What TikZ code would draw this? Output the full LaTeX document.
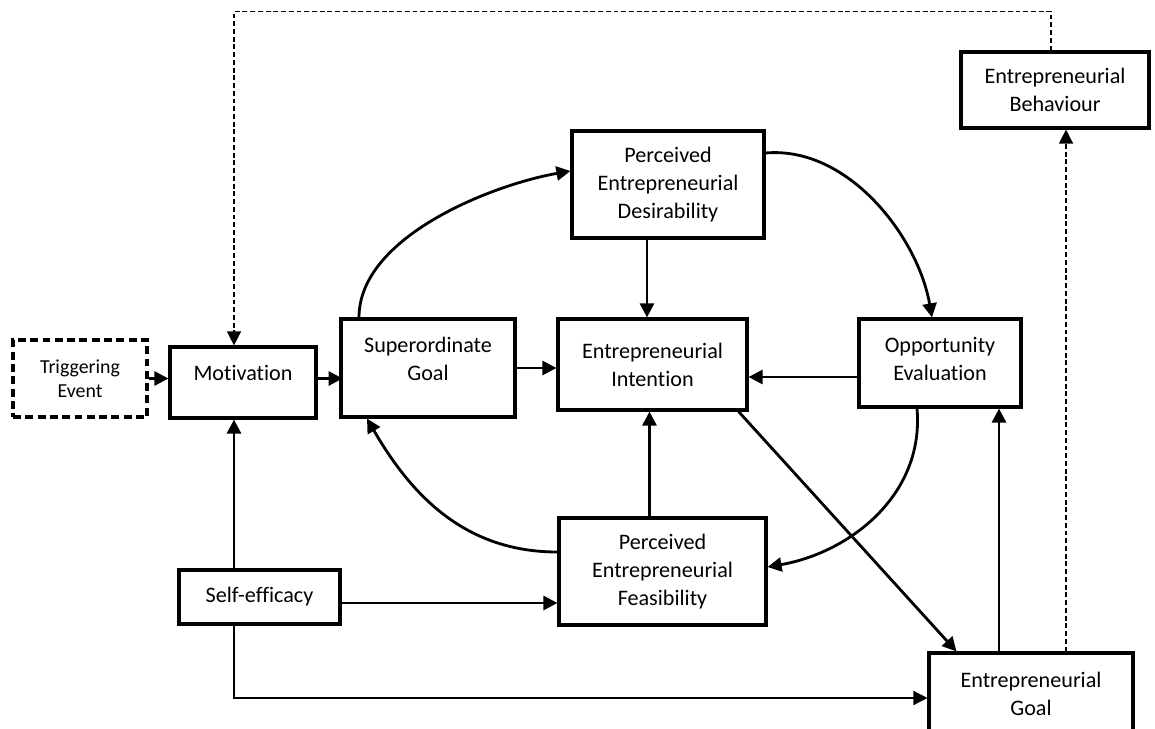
\documentclass[tikz,border=0pt]{standalone}
\usepackage{fontspec}
\setmainfont{Carlito}[Ligatures=NoCommon]
\usetikzlibrary{arrows.meta,calc}

\begin{document}
\begin{tikzpicture}[
        x=0.02cm, y=-0.02cm,
        every node/.style={font=\fontsize{12.6}{15.9}\selectfont},
        box/.style={draw, line width=1.8pt, align=center, inner sep=0pt},
        arr/.style={line width=1.6pt, -{Triangle[length=8pt,width=8pt]}},
        thinarr/.style={line width=0.8pt, -{Triangle[length=8pt,width=8pt]}},
        dasharr/.style={line width=0.8pt, dash pattern=on 2.8pt off 1.6pt, -{Triangle[length=8pt,width=8pt]}},
    ]
    \useasboundingbox (0,0) rectangle (1155,729);

    % Boxes
    \node[box, dash pattern=on 4.5pt off 2.5pt, minimum width=2.68cm, minimum height=1.54cm,
          font=\fontsize{11.3}{13.6}\selectfont] (trig) at (80,378.5) {Triggering\\Event};
    \node[box, minimum width=2.92cm, minimum height=1.42cm, text depth=10.8pt] (motiv) at (243,382.5) {Motivation};
    \node[box, minimum width=3.48cm, minimum height=1.96cm, text depth=10.2pt] (super) at (428,368) {Superordinate\\Goal};
    \node[box, minimum width=3.78cm, minimum height=1.82cm] (intent) at (652.5,364.5) {Entrepreneurial\\Intention};
    \node[box, minimum width=3.24cm, minimum height=1.76cm, text depth=4.6pt] (oppor) at (940,363) {Opportunity\\Evaluation};
    \node[box, minimum width=3.84cm, minimum height=2.14cm] (desir) at (668,184.5) {Perceived\\Entrepreneurial\\Desirability};
    \node[box, minimum width=4.14cm, minimum height=2.14cm] (feas) at (662.5,571.5) {Perceived\\Entrepreneurial\\Feasibility};
    \node[box, minimum width=3.22cm, minimum height=1.08cm] (selfeff) at (259.5,597) {Self-efficacy};
    \node[box, minimum width=3.76cm, minimum height=1.52cm] (behav) at (1055,90) {Entrepreneurial\\Behaviour};
    \node[box, minimum width=4.08cm, minimum height=1.64cm] (goal) at (1031,694) {Entrepreneurial\\Goal};

    % helper points
    \coordinate (gb) at ($(goal.north)+(35,0)$);
    \coordinate (go) at ($(goal.north)+(-32,0)$);
    \coordinate (bm) at ($(behav.north)+(-4,0)$);
    \coordinate (sm) at ($(selfeff.north)+(-25.5,0)$);
    \coordinate (sg) at ($(selfeff.south)+(-25.5,0)$);
    \coordinate (sf) at ($(selfeff.east)+(0,6)$);
    \coordinate (oi) at ($(oppor.west)+(0,14)$);
    \coordinate (di) at ($(intent.north)+(-5.5,0)$);
    \coordinate (fi) at ($(intent.south)+(-3,0)$);

    % Main chain
    \draw[arr] (trig.east) -- (trig.east -| motiv.west);
    \draw[arr] ($(motiv.east)+(0,-4)$) -- ($(motiv.east)+(25,-4)$);
    \draw[arr] (super.east) -- (super.east -| intent.west);
    \draw[arr] (oi) -- (oi -| intent.east);
    \draw[arr] (di |- desir.south) -- (di);
    \draw[arr] (fi |- feas.north) -- (fi);
    \draw[arr] ($(intent.south east)+(-10,0)$) -- ($(goal.north west)+(29,0)$);
    \draw[arr] (go) -- (go |- oppor.south);

    % Self-efficacy links
    \draw[arr] (sm) -- (sm |- motiv.south);
    \draw[arr] (sf) -- (sf -| feas.west);
    \draw[thinarr] (sg) |- ($(goal.west)+(0,4)$);

    % Feedback (dashed)
    \draw[dasharr] (gb) -- (gb |- behav.south);
    \draw[dasharr] (bm) -- ++(0,-39) -| ($(motiv.north)+(-9,0)$);

    % Curved links
    \draw[arr] ($(super.north)+(-69,0)$) to[out=90, in=190, looseness=0.8] ($(desir.west)+(0,-13.5)$);
    \draw[arr] ($(desir.east)+(0,-31.5)$) to[out=5, in=100, looseness=0.9] ($(oppor.north)+(-8,0)$);
    \draw[arr] ($(oppor.south)+(-23,0)$) to[out=-85, in=10] ($(feas.east)+(0,-4.5)$);
    \draw[arr] ($(feas.west)+(0,-19.5)$) to[out=180, in=-60] ($(super.south)+(-61,0)$);
\end{tikzpicture}
\end{document}
